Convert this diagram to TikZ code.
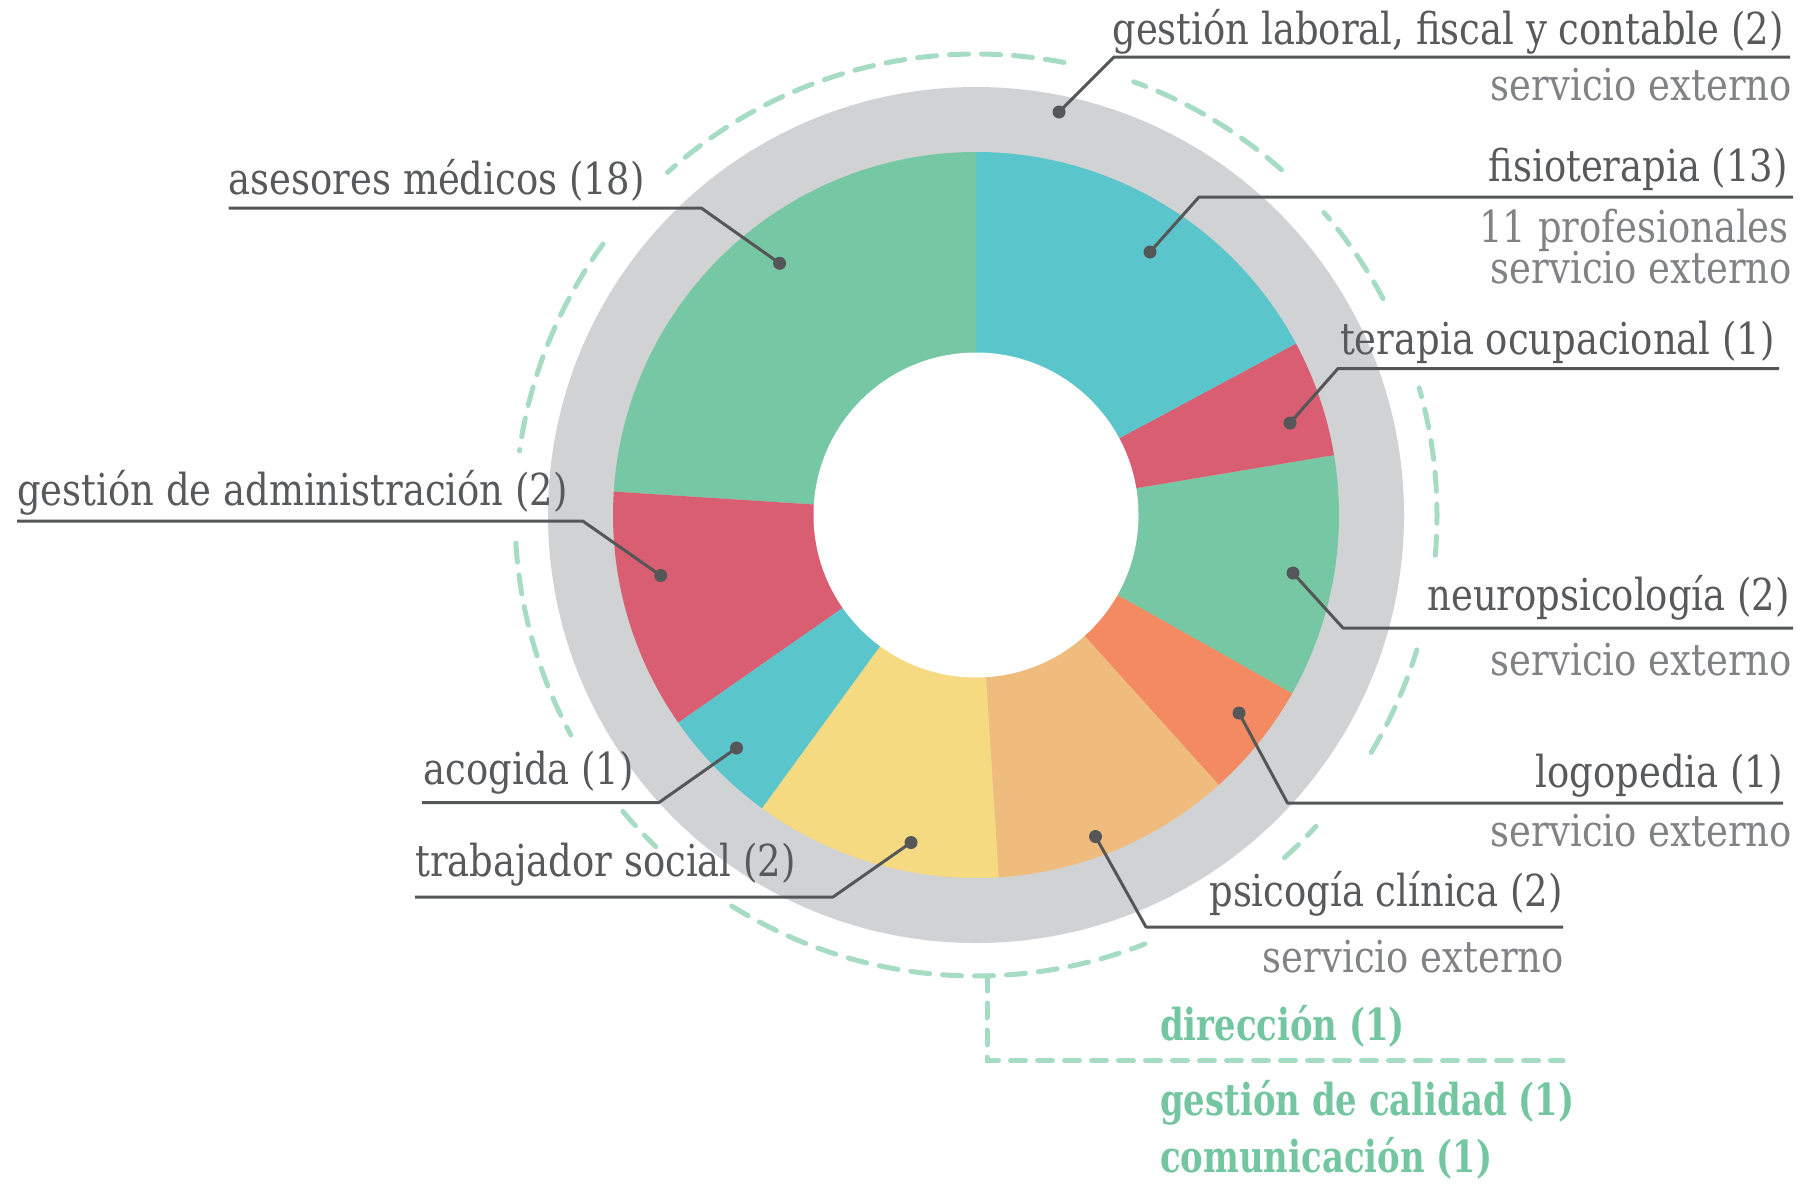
\documentclass[tikz,border=0pt]{standalone}
\usepackage{fontspec}
\setmainfont{DejaVu Serif}[FakeStretch=0.84]
\newfontfamily\grnfont{DejaVu Serif}[FakeStretch=0.77]
\definecolor{ringgray}{HTML}{D1D2D4}
\definecolor{cgreen}{HTML}{76C7A4}
\definecolor{ccyan}{HTML}{5BC5CC}
\definecolor{cred}{HTML}{D95E72}
\definecolor{corange}{HTML}{F38A62}
\definecolor{clorange}{HTML}{F0BC7E}
\definecolor{cyellow}{HTML}{F5DA82}
\definecolor{dashgreen}{HTML}{A6DBC4}
\definecolor{txtdark}{HTML}{58595B}
\definecolor{txtgray}{HTML}{818285}
\definecolor{txtgreen}{HTML}{74C6A0}
\definecolor{linegray}{HTML}{555658}
\tikzset{
  lbl/.style={font=\fontsize{44}{50}\selectfont, text=txtdark, inner sep=0pt},
  sublbl/.style={lbl, text=txtgray},
  grnlbl/.style={font=\grnfont\fontsize{44}{50}\selectfont\bfseries, text=txtgreen, inner sep=0pt},
  leader/.style={draw=linegray, line width=3pt, line join=round},
  dotnode/.style={circle, fill=linegray, inner sep=0pt, minimum size=13pt},
  dasharc/.style={draw=dashgreen, line width=5pt, line cap=round, dash pattern=on 19pt off 13pt},
}
\newcommand{\seg}[3]{\fill[#1] (C) -- ([shift={(C)}]#2:363) arc[start angle=#2, end angle=#3, radius=363] -- cycle;}
\newcommand{\darc}[2]{\draw[dasharc] ([shift={(C)}]#1:461) arc[start angle=#1, end angle=#2, radius=461];}
\begin{document}
\begin{tikzpicture}[x=1pt,y=1pt]
\useasboundingbox (0,0) rectangle (1807,-1184);
\coordinate (C) at (976,-515);
% gray ring
\fill[ringgray] (C) circle[radius=428];
% segments
\seg{cgreen}{90}{176.3}
\seg{cred}{176.3}{214.9}
\seg{ccyan}{214.9}{233.9}
\seg{cyellow}{233.9}{273.6}
\seg{clorange}{273.6}{312}
\seg{corange}{312}{330.6}
\seg{cgreen}{330.6}{369.5}
\seg{cred}{9.5}{28.2}
\seg{ccyan}{28.2}{90}
\fill[white] (C) circle[radius=162.5];
% dashed arcs
\darc{79}{132}
\darc{48.5}{70}
\darc{28}{41}
\darc{-5}{16}
\darc{-31}{-17}
\darc{-48}{-42.5}
\darc{-122}{-68.5}
\darc{-140}{-134}
\darc{183.5}{208.5}
\darc{144}{172}
% direccion bracket
\coordinate (br0) at (987,-976);
\coordinate (br1) at (987,-1060.5);
\coordinate (br2) at (1563,-1060.5);
\draw[dasharc, dash pattern=on 15pt off 12pt] (br0) -- (br1) -- (br2);
% dots and leaders
\node[dotnode] (d1) at (1059,-112) {};
\coordinate (e1) at (1114,-57); \coordinate (f1) at (1790,-57);
\node[dotnode] (d2) at (1150,-252) {};
\coordinate (e2) at (1199,-197); \coordinate (f2) at (1793,-197);
\node[dotnode] (d3) at (1290,-423) {};
\coordinate (e3) at (1338,-368.5); \coordinate (f3) at (1779,-368.5);
\node[dotnode] (d4) at (1293,-573) {};
\coordinate (e4) at (1343,-628); \coordinate (f4) at (1793,-628);
\node[dotnode] (d5) at (1239,-713) {};
\coordinate (e5) at (1287.5,-803); \coordinate (f5) at (1783,-803);
\node[dotnode] (d6) at (1095.5,-836.5) {};
\coordinate (e6) at (1146,-927); \coordinate (f6) at (1563,-927);
\node[dotnode] (d7) at (911,-842.5) {};
\coordinate (e7) at (833,-897); \coordinate (f7) at (415,-897);
\node[dotnode] (d8) at (736.5,-748) {};
\coordinate (e8) at (659,-802.5); \coordinate (f8) at (422,-802.5);
\node[dotnode] (d9) at (660.7,-575.5) {};
\coordinate (e9) at (582.7,-521); \coordinate (f9) at (17,-521);
\node[dotnode] (d10) at (779.6,-263.3) {};
\coordinate (e10) at (701.5,-208.2); \coordinate (f10) at (228.5,-208.2);
\foreach \i in {1,...,10} { \draw[leader] (d\i.center) -- (e\i) -- (f\i); }
% labels right
\node[lbl, anchor=base east] (t1) at (1784,-44) {gestión laboral, fiscal y contable (2)};
\node[sublbl, anchor=base east] (s1) at (1792,-100) {servicio externo};
\node[lbl, anchor=base east] (t2) at (1788,-181) {fisioterapia (13)};
\node[sublbl, anchor=base east] (s2a) at (1789,-242) {11 profesionales};
\node[sublbl, anchor=base east] (s2b) at (1792,-283) {servicio externo};
\node[lbl, anchor=base east] (t3) at (1775,-354) {terapia ocupacional (1)};
\node[lbl, anchor=base east] (t4) at (1790,-610) {neuropsicología (2)};
\node[sublbl, anchor=base east] (s4) at (1792,-675) {servicio externo};
\node[lbl, anchor=base east] (t5) at (1783,-787) {logopedia (1)};
\node[sublbl, anchor=base east] (s5) at (1792,-846) {servicio externo};
\node[lbl, anchor=base east] (t6) at (1563,-906) {psicogía clínica (2)};
\node[sublbl, anchor=base east] (s6) at (1564,-972) {servicio externo};
% labels left
\node[lbl, anchor=base west] (t7) at (415,-876) {trabajador social (2)};
\node[lbl, anchor=base west] (t8) at (423.5,-784) {acogida (1)};
\node[lbl, anchor=base west] (t9) at (17,-505.6) {gestión de administración (2)};
\node[lbl, anchor=base west] (t10) at (228.5,-194.4) {asesores médicos (18)};
% green labels
\node[grnlbl, anchor=base west] (g1) at (1160,-1040) {dirección (1)};
\node[grnlbl, anchor=base west] (g2) at (1160,-1115) {gestión de calidad (1)};
\node[grnlbl, anchor=base west] (g3) at (1160,-1172) {comunicación (1)};
\end{tikzpicture}
\end{document}
